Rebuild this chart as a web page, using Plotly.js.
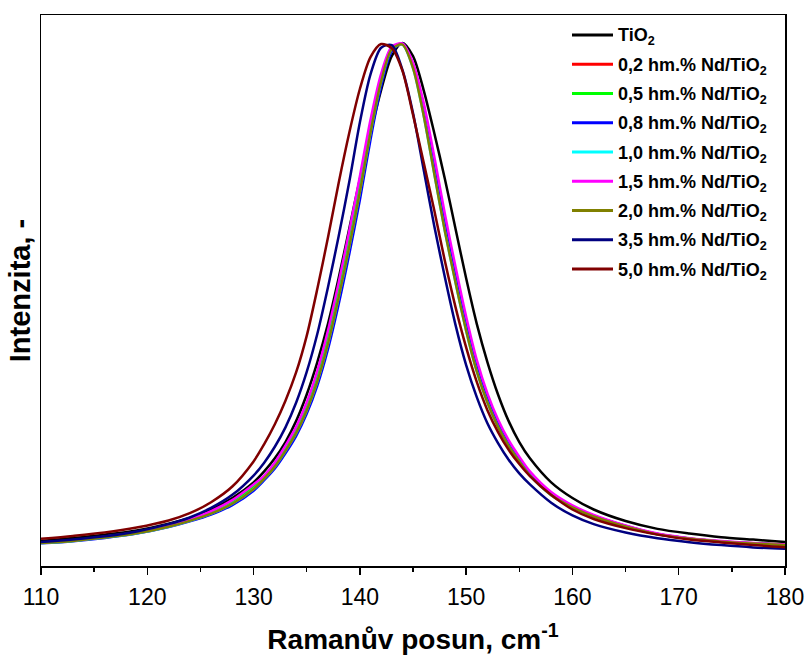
<!DOCTYPE html>
<html>
<head>
<meta charset="utf-8">
<script src="https://cdn.plot.ly/plotly-3.0.1.min.js"></script>
<style>
  html, body { margin: 0; padding: 0; background: #ffffff; }
  #chart { width: 808px; height: 659px; }
</style>
</head>
<body>
<div id="chart"></div>
<script>
// Raman shift (cm^-1)
const ramanShift = [110,113,116,119,122,124,126,128,130,131,132,133,134,135,136,137,138,139,140,141,142,143,144,145,146,147,148,149,150,151,152,153,154,155,156,158,160,162,165,168,171,174,177,180];

// Normalised intensities
const intTiO2 = [0.048,0.0535,0.060,0.068,0.081,0.092,0.108,0.130,0.160,0.181,0.206,0.237,0.277,0.328,0.390,0.463,0.550,0.645,0.740,0.828,0.910,0.975,1.000,0.975,0.910,0.828,0.740,0.645,0.550,0.463,0.390,0.328,0.277,0.237,0.206,0.160,0.130,0.108,0.086,0.071,0.062,0.055,0.0505,0.046];
const intNd02 = [0.0445,0.0485,0.055,0.0635,0.0766,0.088,0.1025,0.1225,0.1515,0.170,0.194,0.225,0.260,0.305,0.363,0.4375,0.527,0.625,0.730,0.840,0.933,0.990,0.998,0.957,0.874,0.766,0.656,0.557,0.463,0.383,0.321,0.273,0.235,0.2045,0.177,0.1385,0.114,0.096,0.0765,0.061,0.0525,0.047,0.0435,0.041];
const intNd05 = [0.0445,0.0485,0.055,0.0635,0.0766,0.088,0.1025,0.1225,0.1515,0.170,0.194,0.225,0.260,0.305,0.363,0.4375,0.527,0.625,0.730,0.840,0.933,0.990,0.998,0.957,0.874,0.766,0.656,0.557,0.463,0.383,0.321,0.273,0.235,0.2045,0.177,0.1385,0.114,0.096,0.0765,0.061,0.0525,0.047,0.0435,0.041];
const intNd08 = [0.0435,0.0475,0.0537,0.0619,0.0745,0.0855,0.0985,0.1165,0.144,0.164,0.1865,0.2155,0.2485,0.291,0.345,0.4145,0.500,0.596,0.700,0.815,0.917,0.984,0.999,0.958,0.874,0.767,0.655,0.556,0.463,0.383,0.321,0.273,0.235,0.204,0.177,0.138,0.1135,0.0957,0.0765,0.061,0.0523,0.0468,0.0432,0.0401];
const intNd10 = [0.044,0.048,0.0543,0.0625,0.0752,0.0863,0.100,0.119,0.147,0.167,0.190,0.220,0.254,0.2975,0.353,0.425,0.513,0.610,0.715,0.828,0.926,0.988,0.997,0.952,0.8615,0.750,0.640,0.542,0.450,0.372,0.3125,0.266,0.2295,0.200,0.173,0.1355,0.112,0.0947,0.0755,0.0605,0.052,0.0466,0.043,0.040];
const intNd15 = [0.045,0.049,0.056,0.0645,0.078,0.090,0.105,0.126,0.156,0.173,0.198,0.230,0.266,0.3125,0.373,0.450,0.541,0.640,0.745,0.853,0.941,0.993,0.999,0.962,0.886,0.783,0.673,0.572,0.477,0.394,0.330,0.280,0.2405,0.209,0.181,0.1415,0.116,0.0977,0.0775,0.062,0.053,0.0476,0.044,0.0415];
const intNd20 = [0.044,0.048,0.0543,0.0625,0.0752,0.0863,0.100,0.119,0.147,0.167,0.190,0.220,0.254,0.2975,0.353,0.425,0.513,0.610,0.715,0.828,0.926,0.988,0.997,0.952,0.8615,0.750,0.640,0.542,0.450,0.372,0.3125,0.266,0.2295,0.200,0.173,0.1355,0.112,0.0947,0.0755,0.0605,0.052,0.0466,0.043,0.040];
const intNd35 = [0.046,0.0508,0.0568,0.066,0.080,0.0928,0.111,0.136,0.173,0.1976,0.228,0.265,0.312,0.371,0.444,0.533,0.630,0.734,0.848,0.940,0.991,0.996,0.949,0.866,0.758,0.650,0.552,0.461,0.384,0.323,0.273,0.235,0.203,0.177,0.156,0.121,0.0966,0.080,0.064,0.053,0.0456,0.040,0.0356,0.033];
const intNd50 = [0.052,0.0575,0.064,0.0735,0.087,0.101,0.122,0.152,0.200,0.233,0.271,0.316,0.370,0.440,0.530,0.628,0.732,0.828,0.912,0.973,0.998,0.990,0.947,0.863,0.772,0.680,0.583,0.495,0.418,0.352,0.298,0.256,0.222,0.195,0.172,0.136,0.108,0.0898,0.0724,0.060,0.0505,0.045,0.040,0.036];

const seriesNames = ['TiO<sub>2</sub>','0,2 hm.% Nd/TiO<sub>2</sub>','0,5 hm.% Nd/TiO<sub>2</sub>','0,8 hm.% Nd/TiO<sub>2</sub>','1,0 hm.% Nd/TiO<sub>2</sub>','1,5 hm.% Nd/TiO<sub>2</sub>','2,0 hm.% Nd/TiO<sub>2</sub>','3,5 hm.% Nd/TiO<sub>2</sub>','5,0 hm.% Nd/TiO<sub>2</sub>'];
const seriesColors = ['#000000','#FF0000','#00FF00','#0000FF','#00FFFF','#FF00FF','#808000','#000080','#800000'];
const seriesValues = [intTiO2,intNd02,intNd05,intNd08,intNd10,intNd15,intNd20,intNd35,intNd50];

const FONT = 'Arial, "Liberation Sans", Helvetica, sans-serif';

const traces = seriesValues.map((vals, i) => ({
  x: ramanShift,
  y: vals,
  type: 'scatter',
  mode: 'lines',
  name: seriesNames[i],
  line: { color: seriesColors[i], width: 2.5, shape: 'spline', smoothing: 0.8 },
  showlegend: false,
  hoverinfo: 'x+y+name'
}));

// custom legend (line samples + labels) in paper coordinates
const plotL = 41, plotR = 785, plotT = 15, plotB = 566;
const pw = plotR - plotL, ph = plotB - plotT;
const px2x = p => (p - plotL) / pw;
const py2y = p => (plotB - p) / ph;
const shapes = [];
const annotations = [];
seriesNames.forEach((nm, i) => {
  const yc = 35 + 29.25 * i;
  shapes.push({ type: 'line', xref: 'paper', yref: 'paper',
    x0: px2x(572), x1: px2x(613), y0: py2y(yc), y1: py2y(yc),
    line: { color: seriesColors[i], width: 3 } });
  annotations.push({ xref: 'paper', yref: 'paper', x: px2x(616), y: py2y(yc + 2),
    xanchor: 'left', yanchor: 'middle', showarrow: false,
    text: '<b>' + nm + '</b>', font: { family: FONT, size: 18, color: '#000000' } });
});

const layout = {
  width: 808, height: 659,
  margin: { l: plotL, r: 808 - plotR, t: plotT, b: 659 - plotB, pad: 0 },
  paper_bgcolor: '#ffffff', plot_bgcolor: '#ffffff',
  font: { family: FONT, color: '#000000' },
  showlegend: false,
  xaxis: {
    range: [110, 180], tick0: 110, dtick: 10,
    ticks: 'outside', ticklen: 7, tickwidth: 1.5, tickcolor: '#000000',
    minor: { dtick: 5, ticks: 'outside', ticklen: 4, tickwidth: 1.5, tickcolor: '#000000', showgrid: false },
    showline: true, linewidth: 1.5, linecolor: '#000000', mirror: true,
    showgrid: false, zeroline: false,
    tickfont: { family: FONT, size: 23, color: '#000000' },
    ticklabelstandoff: 3,
    title: { text: '<b>Ramanův posun, cm<sup>-1</sup></b>', font: { family: FONT, size: 28, color: '#000000' }, standoff: 20 }
  },
  yaxis: {
    range: [0, 1.0535],
    showticklabels: false, ticks: '',
    showline: true, linewidth: 1.5, linecolor: '#000000', mirror: true,
    showgrid: false, zeroline: false,
    title: { text: '<b>Intenzita, -</b>', font: { family: FONT, size: 29, color: '#000000' }, standoff: 0 }
  },
  shapes: shapes,
  annotations: annotations
};

Plotly.newPlot('chart', traces, layout, { staticPlot: true, displayModeBar: false });
</script>
</body>
</html>
